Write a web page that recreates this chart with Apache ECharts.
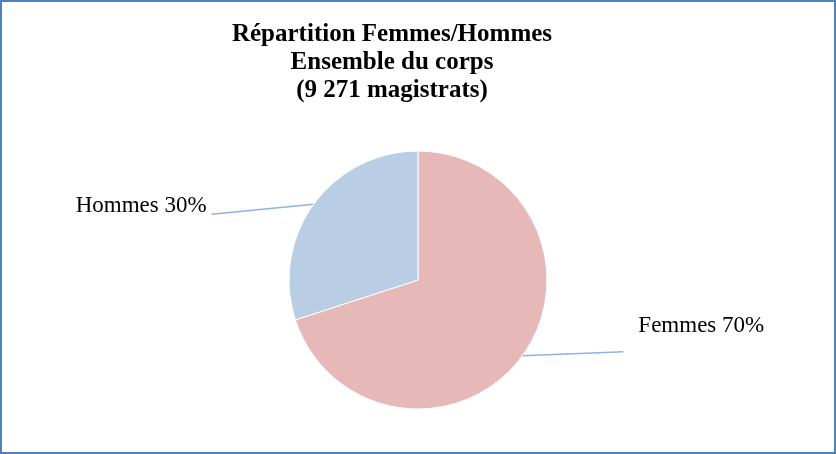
<!DOCTYPE html>
<html>
<head>
<meta charset="utf-8">
<script src="https://cdn.jsdelivr.net/npm/echarts@6/dist/echarts.min.js"></script>
<style>
  html, body { margin: 0; padding: 0; background: #fff; }
  #chart { width: 836px; height: 454px; box-sizing: border-box; border: 2px solid #4f81bd; }
</style>
</head>
<body>
<div id="chart"></div>
<script>
const categories = ['Femmes', 'Hommes'];
const shares = [70, 30];
const sliceColors = ['#e6b9b8', '#b9cde5'];

// label line end offset from the slice edge, and text offset from the line end
const lineEnds = [[101, -4], [-102, 10]];
const textOffsets = [[15, -26], [-5, -8]];

const myChart = echarts.init(document.getElementById('chart'));

const option = {
  animation: false,
  title: {
    text: 'Répartition Femmes/Hommes\nEnsemble du corps\n(9 271 magistrats)',
    left: 385,
    textAlign: 'center',
    top: 14,
    textStyle: {
      fontFamily: 'Liberation Serif',
      fontWeight: 'bold',
      fontSize: 25,
      lineHeight: 28,
      color: '#000'
    }
  },
  series: [
    {
      type: 'pie',
      center: [416, 278],
      radius: 129,
      startAngle: 90,
      clockwise: true,
      data: categories.map((name, i) => ({
        name: name,
        value: shares[i],
        itemStyle: { color: sliceColors[i] }
      })),
      itemStyle: { borderColor: '#fff', borderWidth: 1 },
      label: {
        show: true,
        position: 'outside',
        formatter: '{b} {c}%',
        fontFamily: 'Liberation Serif',
        fontSize: 23,
        color: '#000'
      },
      labelLine: {
        show: true,
        length: 2,
        length2: 100,
        lineStyle: { color: '#8db4e2', width: 1.5 }
      },
      labelLayout: function (params) {
        const i = params.dataIndex;
        const start = params.labelLinePoints[0];
        const end = [start[0] + lineEnds[i][0], start[1] + lineEnds[i][1]];
        return {
          x: end[0] + textOffsets[i][0],
          y: end[1] + textOffsets[i][1],
          align: lineEnds[i][0] > 0 ? 'left' : 'right',
          verticalAlign: 'middle',
          labelLinePoints: [start, end]
        };
      }
    }
  ]
};

myChart.setOption(option);
</script>
</body>
</html>
